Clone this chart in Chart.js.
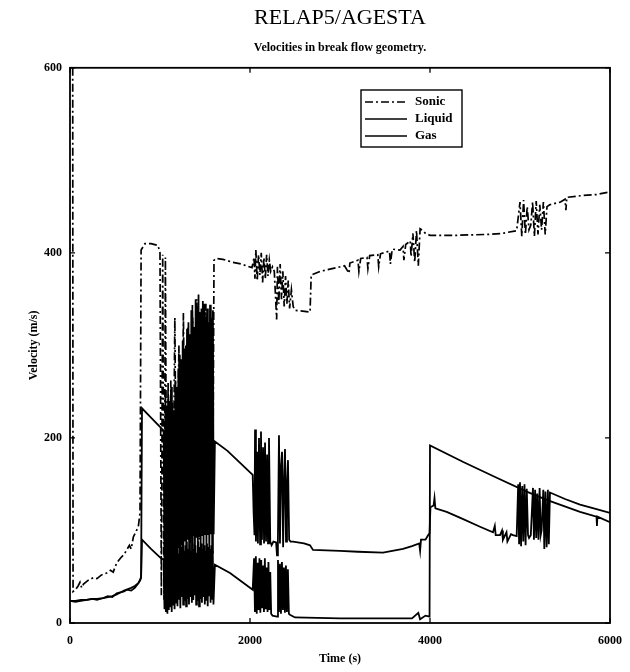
<!DOCTYPE html>
<html lang="en">
<head>
  <meta charset="UTF-8">
  <title>RELAP5/AGESTA</title>
  <style>
    body {
      margin: 0;
      background: #fff;
    }
    #chart {
      display: block;
    }
  </style>
  <script src="https://cdn.jsdelivr.net/npm/chart.js"></script>
</head>
<body>
  <canvas id="chart" width="630" height="672"></canvas>

  <script>
    // Break flow velocities, time in s, velocity in m/s
    const sonicTime = [30, 34, 60, 90, 111, 130, 150, 200, 259, 300, 350, 407, 450, 480, 519, 560, 600, 630, 660, 680, 704, 730, 759, 778,
      790, 833, 900, 978,
      1000, 1015, 1030, 1045, 1060, 1075, 1090, 1105, 1120, 1140, 1165, 1185, 1210, 1235, 1260, 1285, 1310, 1335, 1360, 1385,
      1410, 1435, 1460, 1485, 1510, 1535, 1560, 1585, 1600,
      1620, 1700, 1800, 1900, 2022,
      2045, 2055, 2065, 2080, 2095, 2110, 2125, 2140, 2155, 2170, 2185, 2200, 2215, 2230, 2250,
      2270, 2296, 2305, 2320, 2335, 2350, 2365, 2380, 2395, 2410, 2425, 2440, 2460, 2480, 2500, 2667,
      2680, 2778, 2963, 3050, 3100, 3110, 3200, 3210, 3230, 3300, 3310, 3330, 3420, 3430, 3450, 3550, 3560, 3580,
      3667, 3700, 3710, 3730, 3780, 3790, 3810, 3830, 3850, 3870, 3890, 3920, 3950, 4000, 4300, 4667, 4800, 4963,
      5000, 5020, 5040, 5060, 5080, 5100, 5120, 5140, 5160, 5180, 5200, 5220, 5240, 5260, 5280, 5300,
      5330, 5450, 5500, 5510, 5520, 5700, 5850, 6000];
    const sonicVel = [600, 34, 36, 40, 44, 38, 42, 46, 49, 48, 52, 54, 57, 55, 65, 70, 74, 79, 84, 80, 93, 98, 104, 119,
      403, 410, 410, 408,
      400, 30, 398, 25, 395, 40, 260, 50, 262, 60, 330, 70, 300, 80, 335, 90, 320, 85, 345, 95,
      350, 90, 340, 100, 345, 95, 340, 100, 392,
      394, 393, 390, 388, 384,
      395, 372, 403, 370, 398, 376, 400, 368, 395, 372, 398, 375, 392, 380, 385,
      380, 328, 385, 345, 388, 350, 380, 342, 375, 345, 370, 340, 360, 342, 338, 336,
      376, 380, 384, 386, 378, 389, 392, 380, 394, 395, 383, 397, 398, 385, 399, 402, 388, 404,
      403, 407, 392, 409, 413, 396, 421, 390, 424, 386, 426, 424, 421, 419, 419, 420, 421, 424,
      455, 418, 457, 420, 450, 425, 430, 455, 418, 456, 420, 452, 425, 455, 420, 450,
      452, 455, 458, 446, 460, 462, 463, 466];

    const liquidTime = [0, 60, 120, 185, 250, 300, 370, 420, 470, 519, 560, 600, 630, 680, 720, 759, 780, 790,
      800, 900, 1000, 1040,
      1050, 1058, 1066, 1074, 1082, 1090, 1098, 1106, 1114, 1122, 1130, 1138, 1146, 1154, 1162, 1170, 1178, 1186,
      1194, 1202, 1210, 1218, 1226, 1234, 1242, 1250, 1258, 1266, 1274, 1282, 1290, 1298, 1306, 1314, 1322, 1330,
      1338, 1346, 1354, 1362, 1370, 1378, 1386, 1394, 1402, 1410, 1418, 1426, 1434, 1442, 1450, 1458, 1466, 1474,
      1482, 1490, 1498, 1506, 1514, 1522, 1530, 1538, 1546, 1554, 1562, 1570, 1578, 1586, 1594,
      1610, 1778, 2030,
      2045, 2055, 2065, 2075, 2085, 2095, 2105, 2115, 2125, 2135, 2145, 2155, 2165, 2175, 2185, 2195, 2205, 2215,
      2225, 2235, 2250, 2300,
      2311, 2322, 2333, 2344, 2355, 2366, 2377, 2388, 2399, 2410, 2421, 2432, 2444,
      2500, 3000, 3500, 3800, 3870, 3890, 3950, 3995,
      4000, 4370, 4741, 5074, 5296, 5667, 5850, 5855, 5860, 6000];
    const liquidVel = [24, 24, 25, 25, 26, 26, 27, 28, 29, 31, 33, 35, 36, 38, 40, 43, 46, 49,
      90, 80, 71, 68,
      15, 85, 12, 80, 10, 88, 14, 82, 18, 90, 12, 78, 20, 86, 15, 80, 22, 88,
      18, 75, 25, 85, 16, 82, 28, 90, 20, 78, 24, 84, 18, 88, 26, 80, 20, 85,
      28, 78, 22, 86, 25, 80, 30, 84, 20, 76, 24, 88, 18, 82, 26, 86, 22, 80,
      28, 84, 20, 78, 25, 86, 18, 82, 30, 80, 22, 84, 26, 78, 20,
      63, 54, 36,
      70, 12, 72, 10, 65, 14, 70, 11, 68, 16, 62, 12, 70, 15, 60, 12, 66, 14,
      55, 10, 8, 7,
      68, 12, 64, 10, 66, 14, 60, 11, 62, 12, 58, 10, 9,
      6, 5, 5, 5, 11, 4, 8, 7,
      192, 174, 157, 142, 133, 120, 115, 105, 115, 109];

    const gasTime = [0, 60, 120, 185, 250, 300, 370, 420, 470, 519, 560, 600, 630, 680, 720, 759, 780, 790,
      800, 900, 1000, 1040,
      1052, 1060, 1068, 1076, 1084, 1092, 1100, 1108, 1116, 1124, 1132, 1140, 1148, 1156, 1164, 1172, 1180, 1188,
      1196, 1204, 1212, 1220, 1228, 1236, 1244, 1252, 1260, 1268, 1276, 1284, 1292, 1300, 1308, 1316, 1324, 1332,
      1340, 1348, 1356, 1364, 1372, 1380, 1388, 1396, 1404, 1412, 1420, 1428, 1436, 1444, 1452, 1460, 1468, 1476,
      1484, 1492, 1500, 1508, 1516, 1524, 1532, 1540, 1548, 1556, 1564, 1572, 1580, 1588, 1596,
      1610, 1750, 1890, 2030,
      2040, 2050, 2056, 2066, 2078, 2088, 2100, 2112, 2122, 2133, 2145, 2156, 2167, 2178, 2190, 2200, 2211, 2225,
      2240, 2260, 2290, 2300, 2310,
      2322, 2333, 2345, 2356, 2368, 2380, 2389, 2400, 2411, 2422, 2435, 2450,
      2478, 2600, 2667, 2700, 3000, 3200, 3478, 3700, 3800, 3880, 3890, 3900, 3950, 3980, 3995,
      4005, 4040, 4050, 4060, 4185, 4350, 4556, 4700, 4720, 4730, 4778, 4800, 4810, 4850, 4860, 4900, 4922, 4963,
      4980, 4990, 5000, 5012, 5025, 5037, 5050, 5062, 5075, 5089, 5100, 5120, 5144, 5155, 5168, 5180, 5192, 5205,
      5218, 5230, 5240, 5259, 5270, 5283, 5296, 5310, 5320, 5333,
      5500, 5667, 5850, 6000];
    const gasVel = [24, 23, 24, 25, 26, 25, 27, 29, 28, 32, 33, 34, 36, 35, 38, 43, 47, 50,
      232, 222, 212, 208,
      70, 250, 55, 235, 72, 245, 60, 240, 75, 255, 50, 238, 78, 230, 64, 262, 80, 255,
      56, 275, 82, 290, 68, 285, 86, 305, 60, 296, 88, 300, 74, 318, 90, 325, 66, 312,
      92, 338, 58, 330, 94, 320, 70, 350, 92, 342, 62, 355, 94, 336, 80, 335, 95, 348,
      66, 345, 96, 330, 72, 340, 95, 325, 60, 344, 96, 330, 76, 338, 96,
      196, 186, 173, 160,
      120, 95, 209, 88, 185, 86, 200, 85, 207, 90, 190, 86, 195, 88, 182, 86, 200, 88,
      84, 88, 87, 73, 88,
      203, 86, 170, 185, 82, 160, 188, 88, 150, 176, 90, 88,
      88, 86, 84, 79, 78, 77, 76, 80, 83, 86, 78, 90, 90, 95, 97,
      125, 127, 135, 124, 120, 113, 104, 98, 105, 95, 95, 100, 90, 98, 88, 96, 95, 94,
      150, 85, 152, 83, 148, 88, 150, 84, 145, 95, 92, 95, 146, 90, 144, 92, 140, 90,
      146, 95, 100, 144, 80, 142, 82, 144, 85, 141,
      134, 128, 123, 119];

    const xTicks = [0, 2000, 4000, 6000];
    const yTicks = [0, 200, 400, 600];

    const serif = '"Liberation Serif", "DejaVu Serif", serif';

    function points(times, vals) {
      return times.map((t, i) => ({ x: t, y: vals[i] }));
    }

    // box round the plot with short inward ticks on all four sides
    const framePlugin = {
      id: 'frame',
      afterDatasetsDraw(chart) {
        const { ctx, chartArea: a, scales: { x, y } } = chart;
        ctx.save();
        ctx.strokeStyle = '#000';
        ctx.lineWidth = 1.8;
        ctx.strokeRect(a.left, a.top, a.right - a.left, a.bottom - a.top);
        ctx.lineWidth = 1.3;
        ctx.beginPath();
        xTicks.forEach(v => {
          const px = x.getPixelForValue(v);
          ctx.moveTo(px, a.bottom); ctx.lineTo(px, a.bottom - 5);
          ctx.moveTo(px, a.top); ctx.lineTo(px, a.top + 5);
        });
        yTicks.forEach(v => {
          const py = y.getPixelForValue(v);
          ctx.moveTo(a.left, py); ctx.lineTo(a.left + 5, py);
          ctx.moveTo(a.right, py); ctx.lineTo(a.right - 5, py);
        });
        ctx.stroke();
        ctx.restore();
      }
    };

    // boxed legend in the upper middle of the plot
    const legendBox = {
      id: 'legendBox',
      afterDraw(chart) {
        const ctx = chart.ctx;
        const left = 361, top = 90, w = 101, h = 57;
        ctx.save();
        ctx.strokeStyle = '#000';
        ctx.lineWidth = 1.4;
        ctx.strokeRect(left, top, w, h);
        ctx.font = 'bold 13px ' + serif;
        ctx.fillStyle = '#000';
        ctx.textBaseline = 'middle';
        chart.data.datasets.forEach((ds, i) => {
          const cy = top + 12 + i * 17;
          ctx.setLineDash(ds.borderDash || []);
          ctx.lineWidth = 1.6;
          ctx.beginPath();
          ctx.moveTo(left + 4, cy);
          ctx.lineTo(left + 46, cy);
          ctx.stroke();
          ctx.setLineDash([]);
          ctx.fillText(ds.label, left + 54, cy);
        });
        ctx.restore();
      }
    };

    new Chart(document.getElementById('chart'), {
      type: 'line',
      data: {
        datasets: [
          { label: 'Sonic', data: points(sonicTime, sonicVel), borderDash: [8, 3, 2, 3], borderWidth: 1.7 },
          { label: 'Liquid', data: points(liquidTime, liquidVel), borderWidth: 1.8 },
          { label: 'Gas', data: points(gasTime, gasVel), borderWidth: 1.8 }
        ]
      },
      options: {
        responsive: false,
        animation: false,
        parsing: false,
        elements: {
          line: { borderColor: '#000', tension: 0, fill: false },
          point: { radius: 0 }
        },
        layout: { padding: { left: 0, right: 20, top: 0, bottom: 0 } },
        plugins: {
          legend: { display: false },
          tooltip: { enabled: false },
          title: {
            display: true,
            text: 'RELAP5/AGESTA',
            color: '#000',
            fullSize: false,
            font: { family: serif, size: 22, weight: 'normal' },
            padding: { top: 5, bottom: 9 }
          },
          subtitle: {
            display: true,
            text: 'Velocities in break flow geometry.',
            color: '#000',
            fullSize: false,
            font: { family: serif, size: 12, weight: 'bold' },
            padding: { top: 0, bottom: 13 }
          }
        },
        scales: {
          x: {
            type: 'linear',
            min: 0,
            max: 6000,
            afterFit: s => {
              s.height = 49;
              s.paddingLeft = 0;
              s.paddingRight = 0;
            },
            grid: { display: false, drawTicks: false },
            border: { display: false },
            ticks: {
              stepSize: 2000,
              padding: 11,
              color: '#000',
              maxRotation: 0,
              font: { family: serif, size: 12, weight: 'bold' },
              callback: v => String(v)
            },
            title: {
              display: true,
              text: 'Time (s)',
              color: '#000',
              font: { family: serif, size: 12, weight: 'bold' },
              padding: { top: 0, bottom: 6 }
            }
          },
          y: {
            type: 'linear',
            min: 0,
            max: 600,
            afterFit: s => { s.width = 70; },
            grid: { display: false, drawTicks: false },
            border: { display: false },
            ticks: {
              stepSize: 200,
              padding: 8,
              color: '#000',
              font: { family: serif, size: 12, weight: 'bold' },
              callback: v => String(v)
            },
            title: {
              display: true,
              text: 'Velocity (m/s)',
              color: '#000',
              font: { family: serif, size: 12, weight: 'bold' },
              padding: { top: 27, bottom: 0 }
            }
          }
        }
      },
      plugins: [framePlugin, legendBox]
    });
  </script>
</body>
</html>
